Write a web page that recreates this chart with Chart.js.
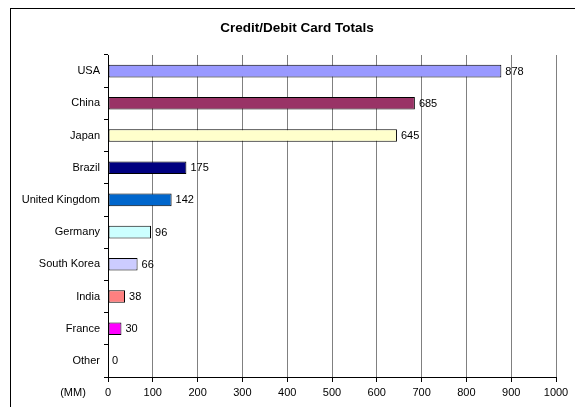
<!DOCTYPE html>
<html>
<head>
<meta charset="utf-8">
<script src="https://cdn.jsdelivr.net/npm/chart.js@4"></script>
<style>
  html, body { margin: 0; padding: 0; background: #fff; overflow: hidden; }
  #frame { position: absolute; left: 10px; top: 8px; width: 600px; height: 420px; border: 1px solid #000; box-sizing: border-box; }
  #wrap { position: absolute; left: 0; top: 0; width: 575px; height: 407px; }
</style>
</head>
<body>
<div id="frame"></div>
<div id="wrap"><canvas id="cards"></canvas></div>
<script>
const countries = ['USA', 'China', 'Japan', 'Brazil', 'United Kingdom', 'Germany', 'South Korea', 'India', 'France', 'Other'];
const totals = [878, 685, 645, 175, 142, 96, 66, 38, 30, 0];
const barColors = ['#9999FF', '#993366', '#FFFFCC', '#000080', '#0066CC', '#CCFFFF', '#CCCCFF', '#FF8080', '#FF00FF', '#FFFFFF'];
const xTicks = [0, 100, 200, 300, 400, 500, 600, 700, 800, 900, 1000];
const chartTitle = 'Credit/Debit Card Totals';
const unitLabel = '(MM)';

const FONT = '"Liberation Sans", Arial, sans-serif';

// value next to the end of each bar, title on top, unit under the category labels
const extras = {
    id: 'extras',
    afterDatasetsDraw(chart) {
        const ctx = chart.ctx;
        const meta = chart.getDatasetMeta(0);
        ctx.save();
        ctx.font = '11px ' + FONT;
        ctx.fillStyle = '#000';
        ctx.textAlign = 'left';
        ctx.textBaseline = 'middle';
        meta.data.forEach((bar, i) => {
            ctx.fillText(String(totals[i]), bar.x + 4, bar.y + 0.5);
        });
        ctx.font = 'bold 13.5px ' + FONT;
        ctx.textAlign = 'center';
        ctx.fillText(chartTitle, 297, 28);
        ctx.font = '11px ' + FONT;
        ctx.fillText(unitLabel, 73, 393);
        ctx.restore();
    }
};

new Chart(document.getElementById('cards').getContext('2d'), {
    type: 'bar',
    data: {
        labels: countries,
        datasets: [{
            data: totals,
            backgroundColor: barColors,
            borderColor: '#000',
            borderWidth: 1,
            borderSkipped: false,
            barPercentage: 0.39,
            categoryPercentage: 1
        }]
    },
    options: {
        indexAxis: 'y',
        responsive: true,
        maintainAspectRatio: false,
        animation: false,
        layout: { padding: { left: 0, right: 19, top: 55, bottom: 0 } },
        plugins: {
            legend: { display: false },
            title: { display: false },
            tooltip: { enabled: false }
        },
        scales: {
            x: {
                min: 0,
                max: 1000,
                afterBuildTicks(scale) { scale.ticks = xTicks.map(v => ({ value: v })); },
                afterFit(scale) { scale.height = 30; },
                grid: { color: '#808080', tickColor: '#000', tickLength: 5, lineWidth: 1 },
                border: { color: '#000' },
                ticks: {
                    color: '#000',
                    font: { family: FONT, size: 11 },
                    padding: 4,
                    maxRotation: 0,
                    callback: v => String(v)
                }
            },
            y: {
                afterFit(scale) { scale.width = 108; },
                grid: { drawOnChartArea: false, offset: true, tickColor: '#000', tickLength: 4 },
                border: { color: '#000' },
                ticks: { color: '#000', font: { family: FONT, size: 11 }, padding: 4 }
            }
        }
    },
    plugins: [extras]
});
</script>
</body>
</html>
